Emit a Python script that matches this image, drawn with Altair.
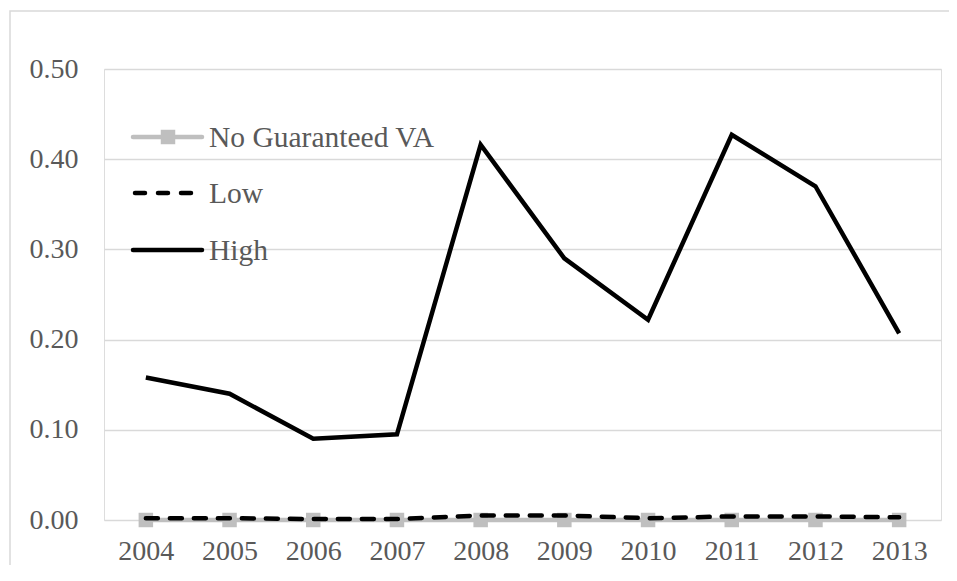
import altair as alt
import pandas as pd

years = ["2004", "2005", "2006", "2007", "2008", "2009", "2010", "2011", "2012", "2013"]
series_names = ["No Guaranteed VA", "Low", "High"]
no_guaranteed = [0.0, 0.0, 0.0, 0.0, 0.0, 0.0, 0.0, 0.0, 0.0, 0.0]
low = [0.002, 0.002, 0.001, 0.001, 0.005, 0.005, 0.002, 0.004, 0.004, 0.003]
high = [0.158, 0.140, 0.090, 0.095, 0.416, 0.290, 0.222, 0.427, 0.370, 0.207]

FONT = "Liberation Serif"
TXT = "#595959"
GRID = "#d9d9d9"
GRAY = "#bfbfbf"

df = pd.DataFrame({
    "year": years * 3,
    "series": [series_names[0]] * 10 + [series_names[1]] * 10 + [series_names[2]] * 10,
    "value": no_guaranteed + low + high,
})

x_enc = alt.X("year:O", scale=alt.Scale(type="point", padding=0.5),
              axis=alt.Axis(title=None, labelAngle=0, ticks=False, domain=False, grid=False,
                            labelFont=FONT, labelFontSize=28, labelColor=TXT, labelPadding=17))
y_enc = alt.Y("value:Q", scale=alt.Scale(domain=[0, 0.5], nice=False),
              axis=alt.Axis(title=None, values=[0, 0.1, 0.2, 0.3, 0.4, 0.5], format=".2f",
                            ticks=False, domain=False, grid=True, gridColor=GRID, gridWidth=1.5,
                            labelFont=FONT, labelFontSize=28, labelColor=TXT, labelPadding=26))

base = alt.Chart(df)

ng = base.transform_filter(alt.datum.series == series_names[0])
ng_line = ng.mark_line(color=GRAY, strokeWidth=4.5).encode(x=x_enc, y=y_enc)
ng_pts = ng.mark_point(shape="square", filled=True, color=GRAY, size=210, opacity=1).encode(x=x_enc, y=y_enc)
low_line = base.transform_filter(alt.datum.series == series_names[1]).mark_line(
    color="black", strokeWidth=4.5, strokeDash=[12, 12], strokeCap="round").encode(x=x_enc, y=y_enc)
high_line = base.transform_filter(alt.datum.series == series_names[2]).mark_line(
    color="black", strokeWidth=4.5, strokeJoin="miter").encode(x=x_enc, y=y_enc)

# outer chart border (decoration)
one = pd.DataFrame({"k": [0]})
border = alt.Chart(one).mark_rect(fill=None, stroke=GRID, strokeWidth=1.5, clip=False).encode(
    x=alt.value(-94), x2=alt.value(1000), y=alt.value(-58), y2=alt.value(600))

# manual legend
legend_layers = []
legend_y = [68, 124, 181]
for i, name in enumerate(series_names):
    ld = pd.DataFrame({"name": [name]})
    c = alt.Chart(ld)
    yv = legend_y[i]
    if i == 0:
        legend_layers.append(c.mark_rule(color=GRAY, strokeWidth=4.5, strokeCap="round").encode(
            x=alt.value(29), x2=alt.value(98), y=alt.value(yv)))
        legend_layers.append(c.mark_point(shape="square", filled=True, color=GRAY, size=210, opacity=1).encode(
            x=alt.value(64), y=alt.value(yv)))
    elif i == 1:
        legend_layers.append(c.mark_rule(color="black", strokeWidth=4.5, strokeCap="round",
                                         strokeDash=[10, 13]).encode(
            x=alt.value(31), x2=alt.value(98), y=alt.value(yv)))
    else:
        legend_layers.append(c.mark_rule(color="black", strokeWidth=4.5, strokeCap="round").encode(
            x=alt.value(29), x2=alt.value(98), y=alt.value(yv)))
    legend_layers.append(c.mark_text(align="left", baseline="middle", font=FONT, fontSize=29.5,
                                     color=TXT, dx=0, dy=1).encode(
        x=alt.value(105), y=alt.value(yv), text="name:N"))

chart = alt.layer(border, ng_line, ng_pts, low_line, high_line, *legend_layers).properties(
    width=837, height=451,
    autosize=alt.AutoSizeParams(type="none"),
    padding={"left": 96, "top": 61, "right": 8, "bottom": 45},
).configure_view(stroke=None).configure(background="white")

chart.save("out.html", embed_options={"renderer": "svg", "actions": False})
